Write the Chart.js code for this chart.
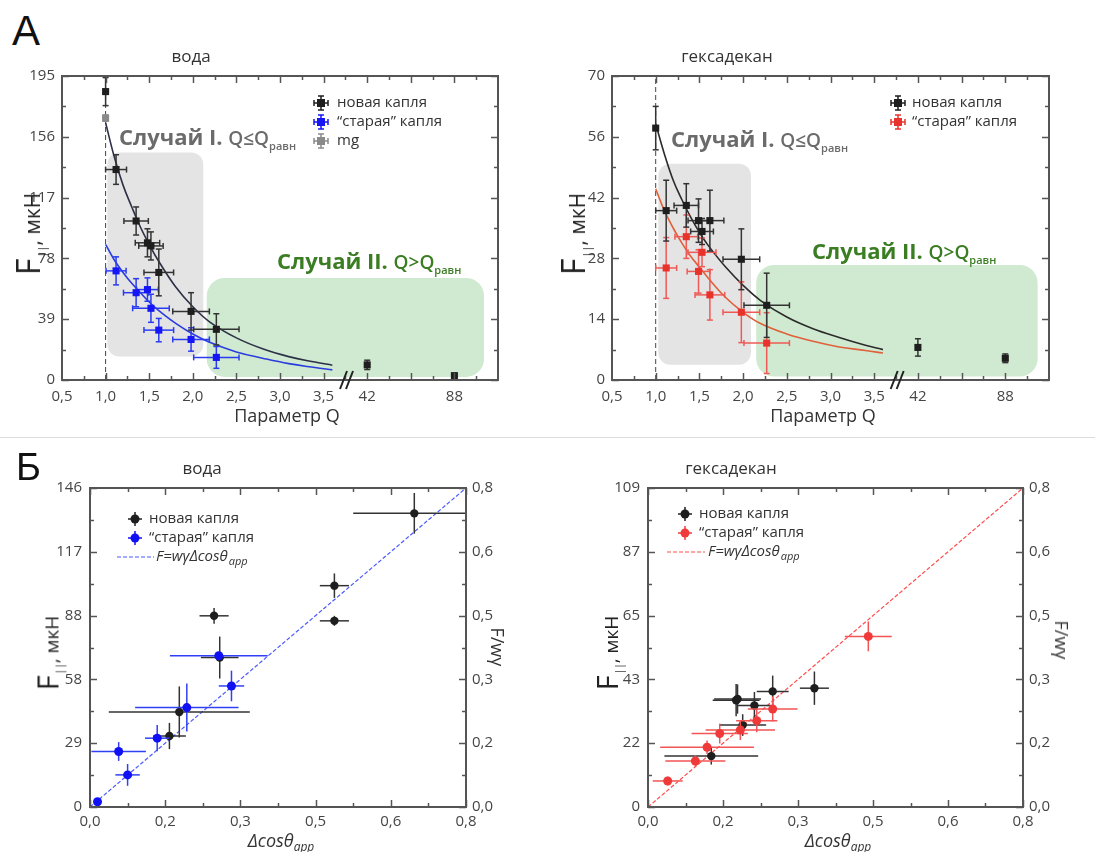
<!DOCTYPE html>
<html>
<head>
<meta charset="utf-8">
<script src="https://cdn.jsdelivr.net/npm/chart.js@4"></script>
<style>
body { margin: 0; background: #fff; }
#wrap { position: relative; width: 1095px; height: 852px; overflow: hidden; background: #fff; font-family: "Open Sans", sans-serif; }
canvas { position: absolute; }
.t { position: absolute; white-space: nowrap; color: #333; line-height: 1; }
.c { transform: translate(-50%, -50%); }
.yl { transform: translate(-50%, -50%) rotate(-90deg); color: #222; }
.yr { transform: translate(-50%, -50%) rotate(90deg); color: #333; font-size: 18px; }
.case { transform: translateY(-50%); font-size: 22px; font-weight: 700; }
.case .q { font-size: 19px; font-weight: 600; }
.case sub { font-size: 11px; }
.letter { font-family: "Liberation Sans", sans-serif; color: #111; }
.sep { position: absolute; left: 0; top: 437px; width: 1095px; height: 1px; background: #dcdcdc; }
</style>
</head>
<body>
<div id="wrap">
  <div class="sep"></div>
  <canvas id="aWater"></canvas>
  <canvas id="aHex"></canvas>
  <canvas id="bWater"></canvas>
  <canvas id="bHex"></canvas>

  <div class="t letter" style="left:12px;top:10px;font-size:42px">А</div>
  <div class="t letter" style="left:16px;top:448px;font-size:38px">Б</div>

  <div class="t c" style="left:191px;top:55px;font-size:17px">вода</div>
  <div class="t c" style="left:727px;top:55px;font-size:17px">гексадекан</div>
  <div class="t c" style="left:202px;top:467px;font-size:17px">вода</div>
  <div class="t c" style="left:731px;top:467px;font-size:17px">гексадекан</div>

  <div class="t yl" style="left:28px;top:234px"><span style="font-size:32px">F</span><span style="font-size:11px;position:relative;top:6px;margin-left:1px">||</span><span style="font-size:21px">, мкН</span></div>
  <div class="t yl" style="left:573px;top:234px"><span style="font-size:32px">F</span><span style="font-size:11px;position:relative;top:6px;margin-left:1px">||</span><span style="font-size:21px">, мкН</span></div>
  <div class="t yl" style="left:47px;top:653px"><span style="font-size:29px">F</span><span style="font-size:10px;position:relative;top:5px;margin-left:1px">||</span><span style="font-size:19px">, мкН</span></div>
  <div class="t yl" style="left:606px;top:653px"><span style="font-size:29px">F</span><span style="font-size:10px;position:relative;top:5px;margin-left:1px">||</span><span style="font-size:19px">, мкН</span></div>

  <div class="t yr" style="left:498px;top:647px">F/wγ</div>
  <div class="t yr" style="left:1062px;top:640px">F/wγ</div>

  <div class="t c" style="left:287px;top:415px;font-size:18px">Параметр Q</div>
  <div class="t c" style="left:823px;top:415px;font-size:18px">Параметр Q</div>
  <div class="t c" style="left:281px;top:840px;font-size:18px;font-style:italic">Δcosθ<span style="font-size:12px;position:relative;top:4px">app</span></div>
  <div class="t c" style="left:838px;top:840px;font-size:18px;font-style:italic">Δcosθ<span style="font-size:12px;position:relative;top:4px">app</span></div>

  <div class="t case" style="left:119px;top:138px;color:#6b6b6b">Случай I. <span class="q">Q≤Q<sub>равн</sub></span></div>
  <div class="t case" style="left:277px;top:262px;color:#3b7d23">Случай II. <span class="q">Q&gt;Q<sub>равн</sub></span></div>
  <div class="t case" style="left:671px;top:140px;color:#6b6b6b">Случай I. <span class="q">Q≤Q<sub>равн</sub></span></div>
  <div class="t case" style="left:812px;top:252px;color:#3b7d23">Случай II. <span class="q">Q&gt;Q<sub>равн</sub></span></div>
</div>

<script>
// ---- panel A: force vs Q (values 42 and 88 sit at axis positions 4 and 5, after the break)
var qTickVals = [0.5, 1, 1.5, 2, 2.5, 3, 3.5, 4, 5];
var qTickLabels = ['0,5', '1,0', '1,5', '2,0', '2,5', '3,0', '3,5', '42', '88'];

var waterTickVals = [0, 39, 78, 117, 156, 195];
var waterTickLabels = ['0', '39', '78', '117', '156', '195'];
var hexTickVals = [0, 14, 28, 42, 56, 70];
var hexTickLabels = ['0', '14', '28', '42', '56', '70'];

var waterNewQ = [1.0, 1.12, 1.35, 1.48, 1.52, 1.61, 1.98, 2.27, 4.0, 5.0];
var waterNewF = [185, 135, 102, 88, 86, 69, 44, 32.5, 9.7, 2.8];
var waterNewQErr = [0, 0.12, 0.14, 0.14, 0.14, 0.17, 0.21, 0.26, 0, 0];
var waterNewFErr = [9, 9.5, 9, 9, 9, 15, 12, 10, 3, 0.8];

var waterOldQ = [1.12, 1.35, 1.48, 1.52, 1.61, 1.98, 2.27];
var waterOldF = [70, 56, 58, 46, 32, 26, 14.5];
var waterOldQErr = [0.115, 0.145, 0.125, 0.21, 0.17, 0.21, 0.26];
var waterOldFErr = [9, 9, 7.5, 9, 7.5, 7.5, 7];

var waterMgQ = [1.0];
var waterMgF = [168];

var fitQ = [1.0, 1.1, 1.2, 1.3, 1.4, 1.5, 1.6, 1.8, 2.0, 2.2, 2.5, 2.8, 3.1, 3.4, 3.6];
var waterNewFit = [165, 143, 125, 111, 98, 87, 77, 60, 47, 37, 27, 20, 15, 11.5, 9.5];
var waterOldFit = [87, 77, 69, 62, 56, 50, 45, 36.5, 29.5, 24, 18, 14, 10.5, 8, 6.5];

var hexNewQ = [1.0, 1.12, 1.35, 1.49, 1.53, 1.62, 1.98, 2.27, 4.0, 5.0];
var hexNewF = [58, 39, 40.2, 36.7, 34.2, 36.7, 27.8, 17.2, 7.5, 5.0];
var hexNewQErr = [0, 0.12, 0.14, 0.12, 0.13, 0.16, 0.21, 0.26, 0, 0];
var hexNewFErr = [5, 7, 5, 5, 3, 7, 7, 7.4, 2, 1];

var hexOldQ = [1.12, 1.35, 1.49, 1.53, 1.62, 1.98, 2.27];
var hexOldF = [25.8, 33, 25, 29.4, 19.6, 15.6, 8.5];
var hexOldQErr = [0.12, 0.13, 0.13, 0.16, 0.17, 0.21, 0.26];
var hexOldFErr = [7, 5, 5, 3.3, 5.8, 7, 7];

var hexNewFit = [59, 52, 46, 41.5, 37.5, 34, 31, 26, 21.8, 18.3, 14.5, 11.8, 9.8, 8.0, 7.0];
var hexOldFit = [44, 39, 35, 31.5, 28.5, 26, 23.5, 19, 15.6, 13, 10.6, 8.9, 7.6, 6.8, 6.2];

// ---- panel B: force vs delta cos
var cosTickVals = [0, 0.16, 0.32, 0.48, 0.64, 0.8];
var cosTickLabels = ['0,0', '0,2', '0,3', '0,5', '0,6', '0,8'];
var bWaterTickVals = [0, 29.2, 58.4, 87.6, 116.8, 146];
var bWaterTickLabels = ['0', '29', '58', '88', '117', '146'];
var bHexTickVals = [0, 21.8, 43.6, 65.4, 87.2, 109];
var bHexTickLabels = ['0', '22', '43', '65', '87', '109'];

var bWaterNewX = [0.69, 0.52, 0.52, 0.264, 0.276, 0.19, 0.169];
var bWaterNewY = [134.4, 101.3, 85.2, 87.5, 68.4, 43.5, 32.5];
var bWaterNewXErr = [0.13, 0.031, 0.031, 0.031, 0.04, 0.15, 0.035];
var bWaterNewYErr = [9.3, 5.6, 2.3, 3.6, 9.6, 11.7, 6];

var bWaterOldX = [0.274, 0.301, 0.206, 0.143, 0.061, 0.08, 0.016];
var bWaterOldY = [69.2, 55.4, 45.5, 31.5, 25.4, 14.7, 2.4];
var bWaterOldXErr = [0.104, 0.027, 0.11, 0.026, 0.058, 0.026, 0.005];
var bWaterOldYErr = [0, 7, 11, 6, 4.3, 5, 1];

var bWaterFitX = [0, 0.8];
var bWaterFitY = [0, 146];

var bHexNewX = [0.191, 0.188, 0.227, 0.266, 0.355, 0.202, 0.135];
var bHexNewY = [36.9, 36.5, 34.7, 39.5, 40.6, 28, 17.4];
var bHexNewXErr = [0.05, 0.05, 0.035, 0.034, 0.031, 0.05, 0.1];
var bHexNewYErr = [5, 5.5, 4.6, 5.4, 5.7, 3.7, 2.9];

var bHexOldX = [0.47, 0.266, 0.232, 0.197, 0.153, 0.126, 0.101, 0.042];
var bHexOldY = [58.3, 33.5, 29.5, 26.3, 25.1, 20.4, 15.7, 8.9];
var bHexOldXErr = [0.05, 0.053, 0.044, 0.074, 0.06, 0.1, 0.064, 0.032];
var bHexOldYErr = [5.1, 4.3, 4, 3.4, 3.4, 2.3, 2, 1.5];

var bHexFitX = [0, 0.8];
var bHexFitY = [0, 109];

function pts(xs, ys) {
  return xs.map(function (x, i) { return { x: x, y: ys[i] }; });
}

function mids(vals) {
  var out = [];
  for (var i = 0; i < vals.length - 1; i++) out.push((vals[i] + vals[i + 1]) / 2);
  return out;
}

function line(ctx, x0, y0, x1, y1) {
  ctx.beginPath(); ctx.moveTo(x0, y0); ctx.lineTo(x1, y1); ctx.stroke();
}

var panelPlugin = {
  id: 'panel',
  beforeDatasetsDraw: function (chart, args, o) {
    var ctx = chart.ctx, x = chart.scales.x, y = chart.scales.y;
    ctx.save();
    (o.boxes || []).forEach(function (b) {
      var x0 = x.getPixelForValue(b.x[0]), x1 = x.getPixelForValue(b.x[1]);
      var y0 = y.getPixelForValue(b.y[1]), y1 = y.getPixelForValue(b.y[0]);
      ctx.fillStyle = b.color;
      ctx.beginPath(); ctx.roundRect(x0, y0, x1 - x0, y1 - y0, b.r); ctx.fill();
    });
    ctx.restore();
  },
  beforeDatasetDraw: function (chart, args) {
    var ds = chart.data.datasets[args.index];
    if (!ds.errX && !ds.errY) return;
    var ctx = chart.ctx, a = chart.chartArea, x = chart.scales.x, y = chart.scales.y;
    var cap = ds.errCap || 0;
    ctx.save();
    ctx.beginPath(); ctx.rect(a.left, a.top, a.right - a.left, a.bottom - a.top); ctx.clip();
    ctx.strokeStyle = ds.errColor; ctx.lineWidth = 1.5;
    ds.data.forEach(function (p, i) {
      var px = x.getPixelForValue(p.x), py = y.getPixelForValue(p.y);
      var ex = ds.errX ? ds.errX[i] : 0, ey = ds.errY ? ds.errY[i] : 0;
      if (ex) {
        var l = x.getPixelForValue(p.x - ex), r = x.getPixelForValue(p.x + ex);
        line(ctx, l, py, r, py);
        if (cap) { line(ctx, l, py - cap, l, py + cap); line(ctx, r, py - cap, r, py + cap); }
      }
      if (ey) {
        var t = y.getPixelForValue(p.y + ey), b = y.getPixelForValue(p.y - ey);
        line(ctx, px, t, px, b);
        if (cap) { line(ctx, px - cap, t, px + cap, t); line(ctx, px - cap, b, px + cap, b); }
      }
    });
    ctx.restore();
  },
  afterDraw: function (chart, args, o) {
    var ctx = chart.ctx, a = chart.chartArea, x = chart.scales.x, y = chart.scales.y;
    ctx.save();
    ctx.strokeStyle = '#555';
    ctx.lineWidth = 1.5;
    function ticksX(vals, len) {
      vals.forEach(function (v) {
        var px = Math.round(x.getPixelForValue(v)) + 0.5;
        line(ctx, px, a.bottom, px, a.bottom - len);
        line(ctx, px, a.top, px, a.top + len);
      });
    }
    function ticksY(vals, len) {
      vals.forEach(function (v) {
        var py = Math.round(y.getPixelForValue(v)) + 0.5;
        line(ctx, a.left, py, a.left + len, py);
        line(ctx, a.right, py, a.right - len, py);
      });
    }
    ticksX(o.xMajor, 7); ticksX(o.xMinor, 4);
    ticksY(o.yMajor, 7); ticksY(o.yMinor, 4);
    ctx.lineWidth = 2;
    ctx.strokeRect(a.left, a.top, a.right - a.left, a.bottom - a.top);

    if (o.breakAt) {
      var bx = x.getPixelForValue(o.breakAt);
      ctx.strokeStyle = '#222'; ctx.lineWidth = 2;
      line(ctx, bx - 8, a.bottom + 9, bx - 1, a.bottom - 9);
      line(ctx, bx - 2, a.bottom + 9, bx + 5, a.bottom - 9);
    }

    // legend inside the plot
    var lg = o.legend;
    if (lg) {
      lg.items.forEach(function (it, i) {
        var lx = a.left + lg.x, ly = a.top + lg.y + i * lg.gap;
        ctx.setLineDash([]);
        if (it.kind === 'dash') {
          ctx.strokeStyle = it.color; ctx.lineWidth = 1.2; ctx.setLineDash([4, 2]);
          line(ctx, a.left + lg.dash[0], ly, a.left + lg.dash[1], ly);
          ctx.setLineDash([]);
        } else {
          ctx.strokeStyle = it.color; ctx.lineWidth = 1.5;
          line(ctx, lx - 7, ly, lx + 7, ly);
          line(ctx, lx, ly - 7, lx, ly + 7);
          if (lg.cap) {
            line(ctx, lx - 7, ly - 3, lx - 7, ly + 3); line(ctx, lx + 7, ly - 3, lx + 7, ly + 3);
            line(ctx, lx - 3, ly - 7, lx + 3, ly - 7); line(ctx, lx - 3, ly + 7, lx + 3, ly + 7);
          }
          ctx.fillStyle = it.color;
          ctx.beginPath();
          if (lg.square) ctx.rect(lx - 4, ly - 4, 8, 8); else ctx.arc(lx, ly, 4.5, 0, Math.PI * 2);
          ctx.fill();
        }
        var tx = a.left + (it.tx != null ? it.tx : lg.tx);
        ctx.fillStyle = '#333'; ctx.textBaseline = 'middle'; ctx.textAlign = 'left';
        ctx.font = (it.italic ? 'italic ' : '') + lg.size + 'px "Open Sans"';
        ctx.fillText(it.text, tx, ly);
        if (it.sub) {
          var w = ctx.measureText(it.text).width;
          ctx.font = 'italic ' + (lg.size - 4) + 'px "Open Sans"';
          ctx.fillText(it.sub, tx + w + 1, ly + 5);
        }
      });
    }
    ctx.restore();
  }
};

function axis(pos, min, max, vals, labels, size, pad) {
  return {
    type: 'linear', position: pos, min: min, max: max,
    grid: { display: false, drawTicks: false },
    border: { display: false },
    afterBuildTicks: function (s) { s.ticks = vals.map(function (v) { return { value: v }; }); },
    afterFit: function (s) { if (pos === 'bottom') s.height = size; else s.width = size; },
    ticks: {
      autoSkip: false, maxRotation: 0, padding: pad, color: '#454545',
      font: { family: 'Open Sans', size: 15 },
      callback: function (v, i) { return labels[i]; }
    }
  };
}

function makeChart(id, box, area, scales, datasets, panel) {
  var cv = document.getElementById(id);
  cv.width = box.w; cv.height = box.h;
  cv.style.left = box.x + 'px'; cv.style.top = box.y + 'px';
  var yW = 40, y2W = scales.y2 ? 40 : 0, xH = scales.x.afterFitSize;
  return new Chart(cv.getContext('2d'), {
    type: 'scatter',
    data: { datasets: datasets },
    options: {
      responsive: false, animation: false, devicePixelRatio: 1,
      layout: { padding: {
        left: area.l - box.x - yW,
        right: box.x + box.w - area.r - y2W,
        top: area.t - box.y,
        bottom: box.y + box.h - area.b - xH
      } },
      scales: scales,
      plugins: { legend: { display: false }, tooltip: { enabled: false }, panel: panel }
    },
    plugins: [panelPlugin]
  });
}

function pointSet(xs, ys, ex, ey, color, errColor, style, r, cap) {
  return {
    data: pts(xs, ys), errX: ex, errY: ey, errColor: errColor, errCap: cap,
    pointStyle: style, pointRadius: r, pointBackgroundColor: color, pointBorderWidth: 0,
    borderColor: color, backgroundColor: color, showLine: false
  };
}

function curve(xs, ys, color, width, dash) {
  return {
    data: pts(xs, ys), showLine: true, pointRadius: 0, borderColor: color,
    borderWidth: width, borderDash: dash || [], tension: dash ? 0 : 0.4, fill: false
  };
}

function qScales(max, vals, labels) {
  var x = axis('bottom', 0.5, 5.5, qTickVals, qTickLabels, 35, 8);
  x.afterFitSize = 35;
  return { x: x, y: axis('left', 0, max, vals, labels, 40, 7) };
}

function cosScales(max, vals, labels) {
  var x = axis('bottom', 0, 0.8, cosTickVals, cosTickLabels, 25, 6);
  x.afterFitSize = 25;
  return {
    x: x,
    y: axis('left', 0, max, vals, labels, 40, 8),
    y2: axis('right', 0, 0.8, cosTickVals, cosTickLabels, 40, 6)
  };
}

var qMajor = [1, 1.5, 2, 2.5, 3, 3.5, 4, 4.5, 5];
var qMinor = mids(qTickVals.slice(0, 7).concat([4, 4.5, 5, 5.5]));

// A, water
makeChart('aWater', { x: 0, y: 60, w: 540, h: 370 }, { l: 62, t: 75, r: 498, b: 380 },
  qScales(195, waterTickVals, waterTickLabels),
  [
    pointSet(waterNewQ, waterNewF, waterNewQErr, waterNewFErr, '#1e1e1e', '#333', 'rect', 5, 3),
    pointSet(waterMgQ, waterMgF, null, [2], '#8a8a8a', '#8a8a8a', 'rect', 5, 3),
    pointSet(waterOldQ, waterOldF, waterOldQErr, waterOldFErr, '#1515f5', '#2b3cf0', 'rect', 5, 3),
    curve(fitQ, waterNewFit, '#2d3047', 1.6),
    curve(fitQ, waterOldFit, '#2a3ce0', 1.6),
    curve([1, 1], [0, 195], '#444', 1, [5, 3])
  ],
  {
    xMajor: qMajor, xMinor: qMinor, yMajor: waterTickVals, yMinor: mids(waterTickVals), breakAt: 3.78,
    boxes: [
      { x: [1.02, 2.12], y: [15, 146], color: '#e4e4e4', r: 12 },
      { x: [2.16, 5.34], y: [2, 65.5], color: '#cfead0', r: 18 }
    ],
    legend: { x: 259, y: 27, gap: 19, tx: 275, size: 15, square: true, cap: true, items: [
      { text: 'новая капля', color: '#1e1e1e' },
      { text: '\u201Cстарая\u201D капля', color: '#1515f5' },
      { text: 'mg', color: '#8a8a8a' }
    ] }
  });

// A, hexadecane
makeChart('aHex', { x: 550, y: 60, w: 545, h: 370 }, { l: 612, t: 75, r: 1049, b: 380 },
  qScales(70, hexTickVals, hexTickLabels),
  [
    pointSet(hexNewQ, hexNewF, hexNewQErr, hexNewFErr, '#1e1e1e', '#333', 'rect', 5, 3),
    pointSet(hexOldQ, hexOldF, hexOldQErr, hexOldFErr, '#e8332c', '#ee5a55', 'rect', 5, 3),
    curve(fitQ, hexNewFit, '#2b2b2b', 1.6),
    curve(fitQ, hexOldFit, '#e0603a', 1.6),
    curve([1, 1], [0, 70], '#444', 1, [5, 3])
  ],
  {
    xMajor: qMajor, xMinor: qMinor, yMajor: hexTickVals, yMinor: mids(hexTickVals), breakAt: 3.78,
    boxes: [
      { x: [1.03, 2.09], y: [3.5, 49.8], color: '#e4e4e4', r: 12 },
      { x: [2.15, 5.37], y: [0.8, 26.5], color: '#cfead0', r: 18 }
    ],
    legend: { x: 286, y: 27, gap: 19, tx: 300, size: 15, square: true, cap: true, items: [
      { text: 'новая капля', color: '#1e1e1e' },
      { text: '\u201Cстарая\u201D капля', color: '#e8332c' }
    ] }
  });

// B, water
makeChart('bWater', { x: 20, y: 470, w: 520, h: 370 }, { l: 90, t: 488, r: 466, b: 807 },
  cosScales(146, bWaterTickVals, bWaterTickLabels),
  [
    pointSet(bWaterOldX, bWaterOldY, bWaterOldXErr, bWaterOldYErr, '#1010f5', '#3040f5', 'circle', 4.5, 0),
    pointSet(bWaterNewX, bWaterNewY, bWaterNewXErr, bWaterNewYErr, '#1e1e1e', '#333', 'circle', 4.2, 0),
    curve(bWaterFitX, bWaterFitY, '#4b5bff', 1.2, [4, 2])
  ],
  {
    xMajor: cosTickVals, xMinor: mids(cosTickVals), yMajor: bWaterTickVals, yMinor: mids(bWaterTickVals),
    legend: { x: 45, y: 31, gap: 19, tx: 59, size: 15, dash: [27, 64], items: [
      { text: 'новая капля', color: '#1e1e1e' },
      { text: '\u201Cстарая\u201D капля', color: '#1010f5' },
      { kind: 'dash', text: 'F=wγΔcosθ', sub: 'app', italic: true, color: '#4b5bff', tx: 66 }
    ] }
  });

// B, hexadecane
makeChart('bHex', { x: 570, y: 470, w: 525, h: 370 }, { l: 648, t: 488, r: 1023, b: 807 },
  cosScales(109, bHexTickVals, bHexTickLabels),
  [
    pointSet(bHexOldX, bHexOldY, bHexOldXErr, bHexOldYErr, '#f03a3a', '#f25555', 'circle', 4.5, 0),
    pointSet(bHexNewX, bHexNewY, bHexNewXErr, bHexNewYErr, '#1e1e1e', '#333', 'circle', 4.2, 0),
    curve(bHexFitX, bHexFitY, '#ff4d4d', 1.2, [4, 2])
  ],
  {
    xMajor: cosTickVals, xMinor: mids(cosTickVals), yMajor: bHexTickVals, yMinor: mids(bHexTickVals),
    legend: { x: 37, y: 26, gap: 19, tx: 51, size: 15, dash: [19, 57], items: [
      { text: 'новая капля', color: '#1e1e1e' },
      { text: '\u201Cстарая\u201D капля', color: '#f03a3a' },
      { kind: 'dash', text: 'F=wγΔcosθ', sub: 'app', italic: true, color: '#ff4d4d', tx: 60 }
    ] }
  });
</script>
</body>
</html>
